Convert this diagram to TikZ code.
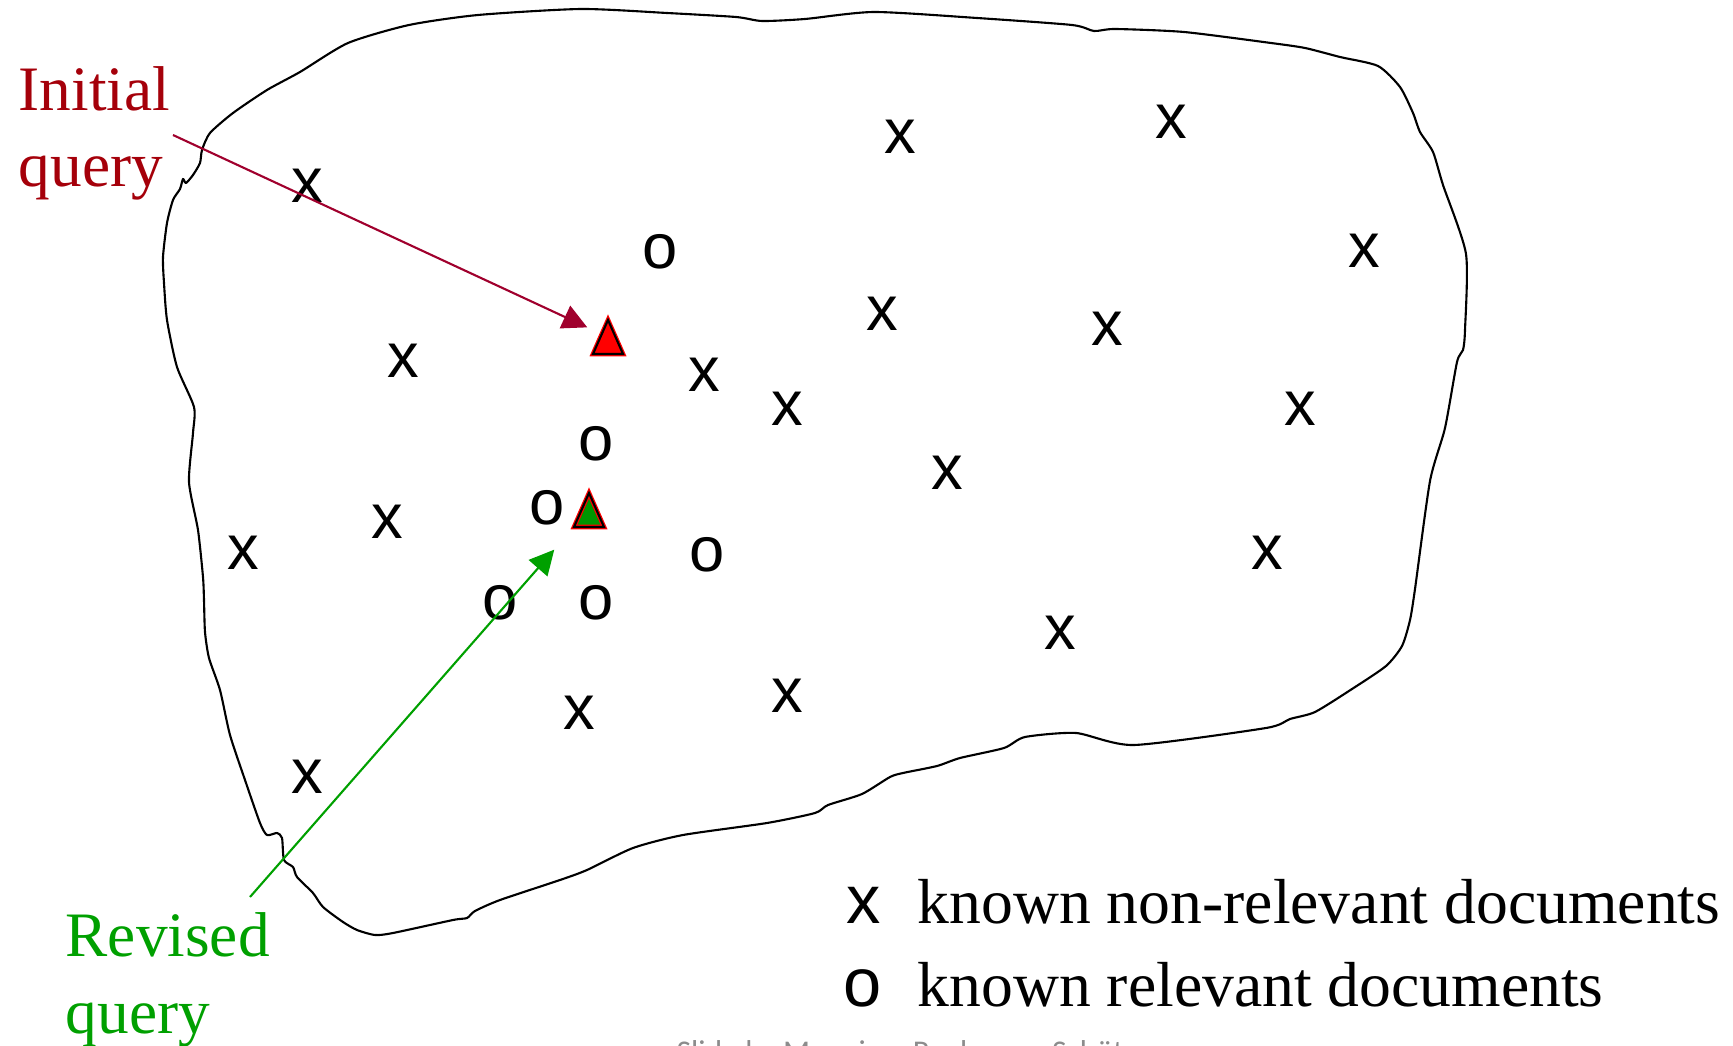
\documentclass[tikz,border=0pt]{standalone}
\usepackage{fontspec}
\setmainfont{Liberation Serif}
\newfontfamily\marksans{Liberation Sans}
\newfontfamily\creditfont{Carlito}
\usetikzlibrary{positioning,arrows.meta}
\definecolor{initred}{RGB}{165,0,10}
\definecolor{arrowred}{RGB}{160,0,45}
\definecolor{revgreen}{RGB}{0,160,0}
\definecolor{trigreen}{RGB}{0,150,0}
\tikzset{
  docmark/.style={font=\marksans\fontsize{18}{18}\selectfont, inner sep=0pt},
  legmark/.style={docmark, font=\marksans\fontsize{19.5}{20}\selectfont},
  legtext/.style={font=\fontsize{18.1}{20}\selectfont, inner sep=0pt, anchor=base west},
  qlabel/.style={font=\fontsize{18}{21.8}\selectfont, align=left, inner sep=0pt, anchor=base west},
  qtri/.style={draw=red, double=black, double distance=0.6pt, line width=0.35pt, line join=miter},
  qarrow/.style={-{Triangle[length=7pt,width=7pt]}, line width=0.6pt},
  outline/.style={line width=0.6pt, line join=round},
  credit/.style={font=\creditfont\fontsize{9}{9}\selectfont, text=black!45, inner sep=0pt, anchor=base west},
}

\begin{document}
\begin{tikzpicture}[x=0.01cm, y=-0.01cm]
  \clip (0,0) rectangle (1733,1046);
  % document space
  \draw[outline] plot[smooth cycle, tension=0.4] coordinates {
    (180,189) (183,179) (186,183) (193,175) (200,163) (202,150) (210,133) (233,113)
    (267,90) (300,72) (348,43) (409,25) (478,15) (581,9) (667,13) (736,17) (762,21)
    (805,19) (874,12) (977,18) (1072,25) (1094,31) (1115,29) (1184,32) (1271,43)
    (1305,48) (1340,57) (1378,66) (1400,87) (1413,113) (1420,132) (1433,152) (1443,185)
    (1466,254) (1465,330) (1463,350) (1457,362) (1445,428) (1430,481) (1415,589)
    (1410,620) (1402,646) (1386,666) (1352,689) (1315,712) (1290,719) (1266,728)
    (1134,745) (1076,733) (1025,737) (1004,748) (960,758) (937,766) (903,773) (890,777)
    (862,794) (828,805) (815,813) (767,823) (683,835) (633,848) (587,870) (560,880)
    (500,900) (475,911) (467,918) (453,920) (393,933) (375,935) (357,930) (343,922)
    (323,907) (313,893) (297,877) (293,867) (284,860) (282,838) (277,833) (267,835)
    (260,823) (245,780) (230,735) (220,690) (209,658) (205,632) (204,600) (203,577)
    (198,530) (189,482) (193,433) (194,407) (177,367) (167,320) (164,283) (163,257)
    (167,223) (173,200)};

  % documents
  \foreach \px/\py [count=\i] in {307/186, 900/137, 1171/122, 1364/251, 882/314,
      1107/329, 403/361, 704/375, 787/409, 1300/409, 947/473, 387/522, 243/553,
      1267/553, 1060/633, 787/696, 579/713, 307/777}
    \node[docmark] (x\i) at (\px,\py) {x};
  \foreach \px/\py [count=\i] in {660/252, 596/444, 547/508, 707/555, 500/603, 596/603}
    \node[docmark] (o\i) at (\px,\py) {o};

  % queries
  \coordinate (initq) at (608,337);
  \coordinate (revq) at (589,510);
  \draw[qtri, fill=red] (initq) ++(-15,17) -- ++(15,-34) -- ++(15,34) -- cycle;
  \draw[qtri, fill=trigreen] (revq) ++(-15,17) -- ++(15,-34) -- ++(15,34) -- cycle;

  \node[qlabel, text=initred] (initlbl) at (18,187) {Initial\\query};
  \node[qlabel, text=revgreen] (revlbl) at (65,1033) {Revised\\query};
  \coordinate (initstart) at (173,135);
  \coordinate (revstart) at (250,897);
  \draw[qarrow, arrowred, shorten >=6.5pt] (initstart) -- (initq);
  \draw[qarrow, revgreen, shorten >=15pt] (revstart) -- (revq);

  % legend
  \node[legtext] (legnr) at (917,923) {known non-relevant documents};
  \node[legtext] (legr) at (917,1006) {known relevant documents};
  \node[legmark, base left=0.35cm of legnr.base west] (legx) {x};
  \node[legmark, base left=0.35cm of legr.base west] (lego) {o};

  \node[credit] (credit) at (676,1062) {Slide by Manning, Raghavan, Schütze};
\end{tikzpicture}
\end{document}
